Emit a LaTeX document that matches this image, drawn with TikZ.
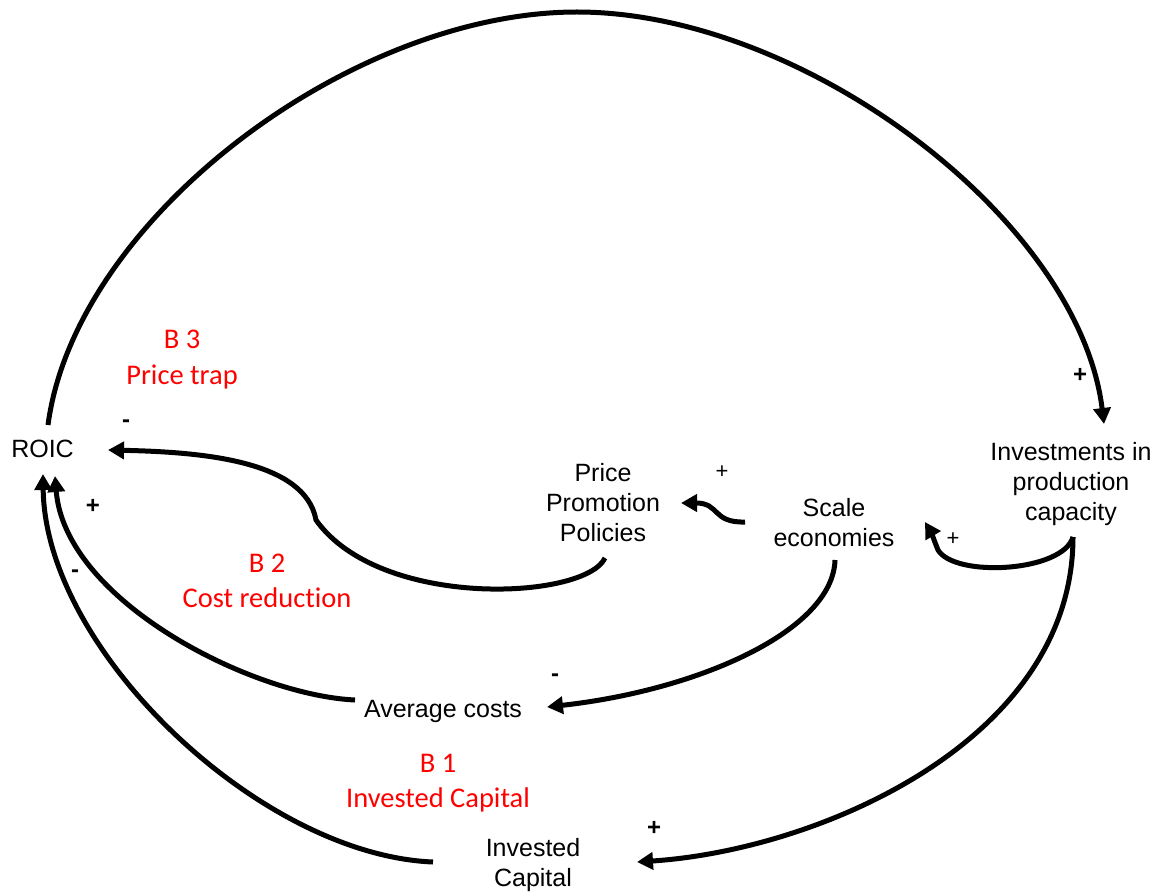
\documentclass[tikz,border=0pt]{standalone}
\usepackage{fontspec}
\setmainfont{Liberation Sans}
\newfontfamily\loopfont[Ligatures=NoCommon]{Carlito}
\usetikzlibrary{arrows.meta,calc}
\begin{document}
\begin{tikzpicture}[x=1pt,y=-1pt,
  var/.style={inner sep=0pt, align=center, text depth=0pt,
    font=\fontsize{25}{30}\selectfont},
  loopname/.style={inner sep=0pt, align=center, text depth=0pt, text=red,
    font=\loopfont\fontsize{28.5}{35.5}\selectfont},
  sign/.style={inner sep=0pt, font=\bfseries\fontsize{24}{24}\selectfont},
  thinsign/.style={inner sep=0pt, font=\fontsize{22}{22}\selectfont},
  link/.style={line width=5pt, -{Triangle[length=16pt,width=17pt]}}
]
\path[use as bounding box] (0,0) rectangle (1161,893);

% variables
\node[var] (roic)  at (42.5,449)  {ROIC};
\node[var] (ppp)   at (603,502.5) {Price\\Promotion\\Policies};
\node[var] (scale) at (834,522.5) {Scale\\economies};
\node[var] (inv)   at (1071,481)  {Investments in\\production\\capacity};
\node[var] (avg)   at (443,709)   {Average costs};
\node[var] (ic)    at (533,862.5) {Invested\\Capital};

% loop names
\node[loopname] (b3) at (182,357.5) {B 3\\Price trap};
\node[loopname] (b2) at (267,580.5) {B 2\\Cost reduction};
\node[loopname] (b1) at (438,781)   {B 1\\Invested Capital};

% causal links
\draw[link] ($(roic)+(5.5,-24)$) .. controls (75,220) and (350,12) .. (577,12)
  .. controls (804,12) and (1079,220) .. ($(inv)+(33,-57)$);
\draw[link] ($(ppp)+(2,55.5)$) .. controls (585,600) and (380,610) .. (316,520)
  .. controls (305,460) and (200,452) .. ($(roic)+(65.5,1)$);
\draw[link] ($(scale)+(-89,-0.5)$) .. controls (712,523) and (720,503) .. ($(ppp)+(78,0.5)$);
\draw[link] ($(scale)+(1,37.5)$) .. controls (833,630) and (700,690) .. ($(avg)+(104,-2)$);
\draw[link] ($(inv)+(2,56)$) .. controls (1063,572) and (955,578) .. (938,550)
  .. controls (934,540) and (931,532) .. ($(scale)+(91,-0.5)$);
\draw[link] ($(inv)+(2,56)$) .. controls (1073,740) and (820,850) .. ($(ic)+(104,-0.5)$);
\draw[link] ($(avg)+(-88,-9)$) .. controls (250,695) and (65,600) .. ($(roic)+(12.5,27)$);
\draw[link] ($(ic)+(-100,-0.5)$) .. controls (260,855) and (45,650) .. ($(roic)+(0.5,25)$);

% polarities
\node[sign] (s1) at (1080,375) {+};
\node[sign] (s2) at (126,424)  {-};
\node[sign] (s3) at (93,506)   {+};
\node[sign] (s4) at (75,574)   {-};
\node[thinsign] (s5) at (722,472) {+};
\node[thinsign] (s6) at (953,539) {+};
\node[sign] (s7) at (555,678)  {-};
\node[sign] (s8) at (654,828)  {+};
\end{tikzpicture}
\end{document}
